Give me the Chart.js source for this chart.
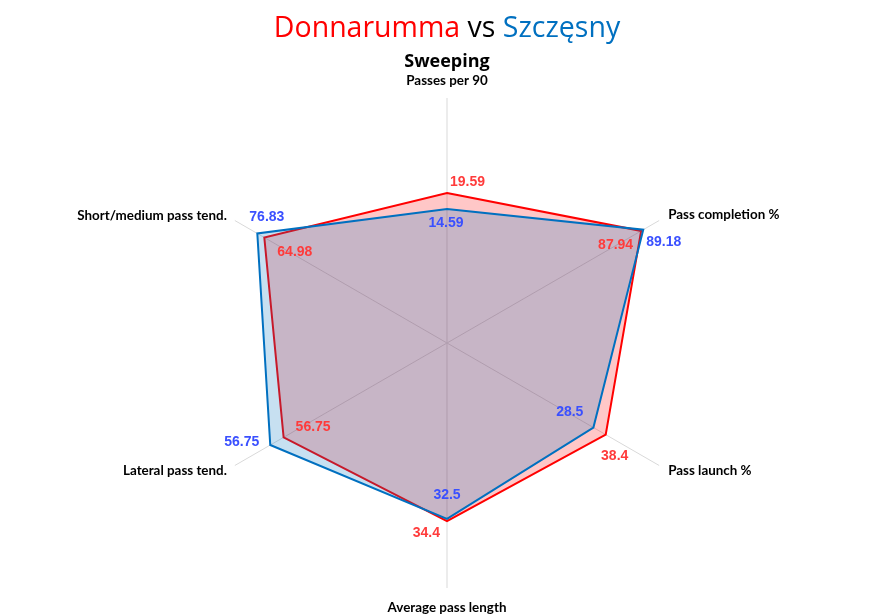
<!DOCTYPE html>
<html>
<head>
<meta charset="utf-8">
<script src="https://cdn.jsdelivr.net/npm/chart.js@4"></script>
<style>
  body { margin: 0; background: #fff; }
  #wrap { width: 894px; height: 615px; position: relative; }
</style>
</head>
<body>
<div id="wrap"><canvas id="radar"></canvas></div>
<script>
// axis names, clockwise from the top
const axes = ["Passes per 90", "Pass completion %", "Pass launch %", "Average pass length", "Lateral pass tend.", "Short/medium pass tend."];

// plotted position on each axis (0 = centre, 1 = end of spoke)
const donnarumma = [0.612, 0.915, 0.748, 0.727, 0.77, 0.861];
const szczesny = [0.547, 0.925, 0.69, 0.718, 0.833, 0.894];

// values printed next to the points
const donnarummaText = ["19.59", "87.94", "38.4", "34.4", "56.75", "64.98"];
const szczesnyText = ["14.59", "89.18", "28.5", "32.5", "56.75", "76.83"];

const RED = "#ff0000";
const BLUE = "#0070c0";

// where each value label sits relative to its point: [dx, dy, align]
const donOffsets = [[3, -11, "left"], [-8, 14, "right"], [9, 22, "center"], [-7, 12, "right"], [12, -10, "left"], [13, 15, "left"]];
const szcOffsets = [[-1, 14, "center"], [3, 12, "left"], [-10, -15, "right"], [0, -24, "center"], [-11, -3, "right"], [-8, -16, "left"]];

// axis title placement relative to spoke end: [dx, dy, align]
const axisOffsets = [[0, -17, "center"], [9, -6, "left"], [9, 5, "left"], [0, 20, "center"], [-8, 5, "right"], [-8, -5, "right"]];

const titlePlugin = {
  id: "titles",
  afterDraw(chart) {
    const ctx = chart.ctx;
    ctx.save();
    ctx.textBaseline = "alphabetic";
    ctx.font = "28.5px 'Open Sans'";
    const parts = [["Donnarumma", RED], [" vs ", "#000"], ["Szczęsny", BLUE]];
    const total = parts.reduce((s, p) => s + ctx.measureText(p[0]).width, 0);
    let x = 447 - total / 2;
    ctx.textAlign = "left";
    parts.forEach(p => {
      ctx.fillStyle = p[1];
      ctx.fillText(p[0], x, 37);
      x += ctx.measureText(p[0]).width;
    });
    ctx.font = "bold 18px 'Open Sans'";
    ctx.fillStyle = "#000";
    ctx.textAlign = "center";
    ctx.fillText("Sweeping", 447, 67);
    ctx.restore();
  }
};

const labelPlugin = {
  id: "labels",
  afterDatasetsDraw(chart) {
    const ctx = chart.ctx;
    const scale = chart.scales.r;
    ctx.save();
    ctx.textBaseline = "middle";

    // axis names
    ctx.font = "bold 13.4px Lato";
    ctx.fillStyle = "#000";
    axes.forEach((name, i) => {
      const p = scale.getPointPosition(i, scale.drawingArea);
      const o = axisOffsets[i];
      ctx.textAlign = o[2];
      ctx.fillText(name, p.x + o[0], p.y + o[1]);
    });

    // values
    ctx.font = "bold 14px 'Liberation Sans'";
    const sets = [[0, szczesnyText, szcOffsets, "#3a50ff"], [1, donnarummaText, donOffsets, "#ff3b3b"]];
    sets.forEach(([di, texts, offs, col]) => {
      const meta = chart.getDatasetMeta(di);
      ctx.fillStyle = col;
      meta.data.forEach((pt, j) => {
        const o = offs[j];
        ctx.textAlign = o[2];
        ctx.fillText(texts[j], pt.x + o[0], pt.y + o[1]);
      });
    });
    ctx.restore();
  }
};

new Chart(document.getElementById("radar"), {
  type: "radar",
  data: {
    labels: axes,
    datasets: [
      {
        label: "Szczęsny",
        data: szczesny,
        borderColor: BLUE,
        backgroundColor: "rgba(0,112,192,0.22)",
        borderWidth: 2,
        pointRadius: 0,
        fill: true,
      },
      {
        label: "Donnarumma",
        data: donnarumma,
        borderColor: RED,
        backgroundColor: "rgba(255,0,0,0.22)",
        borderWidth: 2,
        pointRadius: 0,
        fill: true,
      },
    ],
  },
  options: {
    responsive: true,
    maintainAspectRatio: false,
    animation: false,
    layout: { padding: { top: 98, bottom: 27, left: 0, right: 0 } },
    elements: { line: { tension: 0, borderJoinStyle: "miter" } },
    plugins: {
      legend: { display: false },
      tooltip: { enabled: false },
    },
    scales: {
      r: {
        min: 0,
        max: 1,
        ticks: { display: false },
        grid: { display: false },
        angleLines: { display: true, color: "#d9d9d9", lineWidth: 1 },
        pointLabels: { display: false },
      },
    },
  },
  plugins: [titlePlugin, labelPlugin],
});
</script>
</body>
</html>
